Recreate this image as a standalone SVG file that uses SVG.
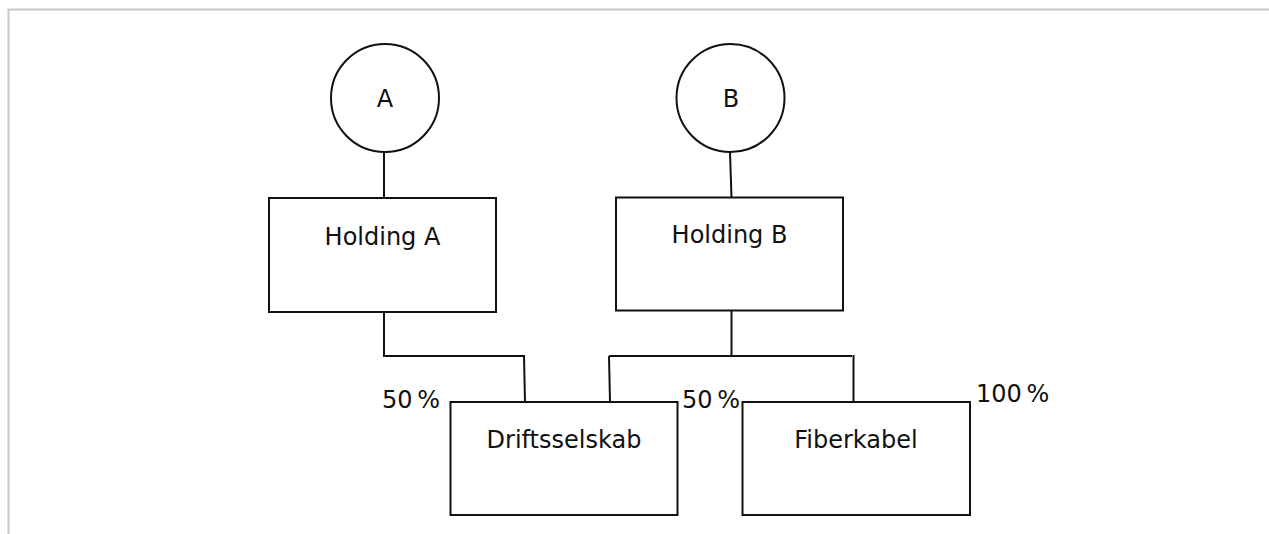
<svg xmlns="http://www.w3.org/2000/svg" width="1269" height="534" viewBox="0 0 1269 534">
  <style>
    .frame { fill: none; stroke: #c8c8c8; stroke-width: 2; }
    .shape { fill: #ffffff; stroke: #111111; stroke-width: 2; }
    .wire { fill: none; stroke: #111111; stroke-width: 2; }
    .label { font-family: "DejaVu Sans", "Liberation Sans", sans-serif; font-size: 24px; fill: #111111; }
    .share { word-spacing: -3px; }
    .mid { text-anchor: middle; }
  </style>
  <rect x="0" y="0" width="1269" height="534" fill="#ffffff"/>
  <!-- page frame -->
  <path class="frame" d="M8.5,534 V9.5 H1269"/>

  <!-- connectors -->
  <g id="connectors">
    <line class="wire" x1="384" y1="152" x2="384" y2="198"/>
    <line class="wire" x1="730" y1="152" x2="731.5" y2="198"/>
    <polyline class="wire" points="384,312 384,356 524,356 525,402"/>
    <line class="wire" x1="731.5" y1="311" x2="731.5" y2="356"/>
    <line class="wire" x1="609" y1="356" x2="852" y2="356"/>
    <line class="wire" x1="609" y1="356" x2="610" y2="402"/>
    <line class="wire" x1="853.5" y1="355" x2="853.5" y2="402"/>
  </g>

  <g id="owner-a">
    <circle class="shape" cx="385" cy="98" r="54"/>
    <text class="label mid" x="385" y="107">A</text>
  </g>
  <g id="owner-b">
    <circle class="shape" cx="730.5" cy="98" r="54"/>
    <text class="label mid" x="731" y="107">B</text>
  </g>

  <g id="holding-a">
    <rect class="shape" x="269" y="198" width="227" height="114"/>
    <text class="label mid" x="382.5" y="245">Holding A</text>
  </g>
  <g id="holding-b">
    <rect class="shape" x="616" y="197.5" width="227" height="113"/>
    <text class="label mid" x="729.5" y="243">Holding B</text>
  </g>

  <g id="driftsselskab">
    <rect class="shape" x="450.5" y="402" width="227" height="113"/>
    <text class="label mid" x="564" y="448">Driftsselskab</text>
  </g>
  <g id="fiberkabel">
    <rect class="shape" x="742.5" y="402" width="227.5" height="113"/>
    <text class="label mid" x="856" y="448">Fiberkabel</text>
  </g>

  <!-- ownership shares -->
  <g id="shares">
    <text class="label share" x="382" y="408">50 %</text>
    <text class="label share" x="682" y="408">50 %</text>
    <text class="label share" x="976" y="401.5">100 %</text>
  </g>
</svg>
